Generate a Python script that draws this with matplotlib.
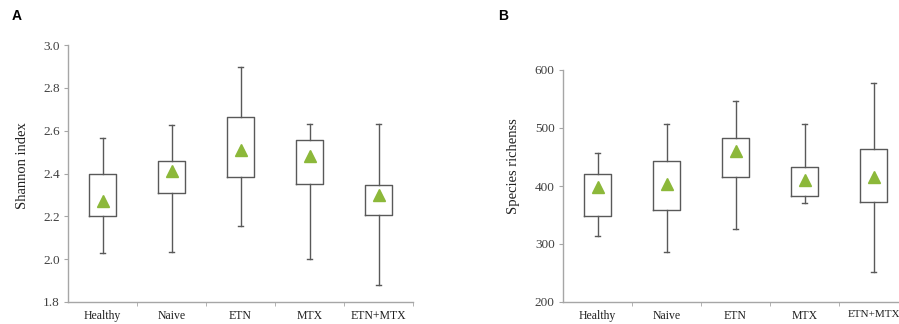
import matplotlib
matplotlib.use("Agg")
import matplotlib.pyplot as plt
from matplotlib.ticker import FixedLocator

groups = ['Healthy', 'Naive', 'ETN', 'MTX', 'ETN+MTX']

# Shannon index: whisker low, Q1, Q3, whisker high, mean
shannon_low = [2.03, 2.035, 2.155, 2.00, 1.88]
shannon_q1 = [2.20, 2.31, 2.385, 2.35, 2.205]
shannon_q3 = [2.40, 2.46, 2.665, 2.555, 2.345]
shannon_high = [2.565, 2.625, 2.895, 2.63, 2.63]
shannon_mean = [2.27, 2.41, 2.51, 2.48, 2.30]

# Species richness
rich_low = [314, 287, 326, 371, 251]
rich_q1 = [349, 359, 415, 383, 372]
rich_q3 = [421, 443, 483, 433, 464]
rich_high = [457, 507, 546, 507, 577]
rich_mean = [398, 404, 460, 411, 415]

green = '#8cb83a'
edge = '#595959'
spine = '#a6a6a6'
serif = ['Liberation Serif', 'DejaVu Serif']


def draw_panel(ax, low, q1, q3, high, mean, yticks, ylabel, fmt, ylab_xy):
    stats = []
    for i in range(len(groups)):
        stats.append({'whislo': low[i], 'q1': q1[i], 'med': q1[i],
                      'q3': q3[i], 'whishi': high[i], 'mean': mean[i],
                      'label': groups[i]})
    pos = list(range(len(groups)))
    ax.bxp(stats, positions=pos, widths=0.4, showfliers=False,
           showmeans=False, capwidths=0.07,
           boxprops=dict(color=edge, linewidth=1.0),
           whiskerprops=dict(color=edge, linewidth=1.0),
           capprops=dict(color=edge, linewidth=1.0),
           medianprops=dict(visible=False))
    ax.plot(pos, mean, linestyle='none', marker='^', markersize=8,
            color=green, zorder=5)
    ax.set_xlim(-0.5, len(groups) - 0.5)
    ax.set_ylim(yticks[0], yticks[-1])
    ax.set_yticks(yticks)
    ax.set_yticklabels([fmt.format(v) for v in yticks], family=serif,
                       fontsize=9.5, color='#404040')
    ax.set_xticks(pos)
    ax.set_xticklabels(groups, family=serif, fontsize=8.5, color='#202020')
    ax.xaxis.set_minor_locator(FixedLocator([i + 0.5 for i in pos]))
    ax.tick_params(axis='x', which='major', length=0, pad=6)
    ax.tick_params(axis='x', which='minor', length=3, color=spine)
    ax.tick_params(axis='y', length=3, color=spine, pad=3)
    for s in ['top', 'right']:
        ax.spines[s].set_visible(False)
    for s in ['left', 'bottom']:
        ax.spines[s].set_color(spine)
        ax.spines[s].set_linewidth(1.0)
    ax.set_ylabel(ylabel, family=serif, fontsize=10.5, color='#202020')
    ax.yaxis.set_label_coords(*ylab_xy)


fig = plt.figure(figsize=(8.99, 3.24), dpi=100)
ax1 = fig.add_axes([68 / 899, 1 - 302 / 324, 345 / 899, 257 / 324])
ax2 = fig.add_axes([563 / 899, 1 - 302 / 324, 345 / 899, 232 / 324])

draw_panel(ax1, shannon_low, shannon_q1, shannon_q3, shannon_high,
           shannon_mean, [1.8, 2.0, 2.2, 2.4, 2.6, 2.8, 3.0],
           'Shannon index', '{:.1f}', (-0.112, (302 - 166) / 257))
draw_panel(ax2, rich_low, rich_q1, rich_q3, rich_high, rich_mean,
           [200, 300, 400, 500, 600], 'Species richenss', '{:.0f}',
           (-0.124, (302 - 166) / 232))
last = ax2.get_xticklabels()[-1]
last.set_fontsize(8)

fig.text(12 / 899, 1 - 16 / 324, 'A', fontsize=10, fontweight='bold',
         family='Liberation Sans', va='center')
fig.text(498 / 899, 1 - 16 / 324, 'B', fontsize=10, fontweight='bold',
         family='Liberation Sans', va='center')

fig.savefig('out.png', dpi=100)
